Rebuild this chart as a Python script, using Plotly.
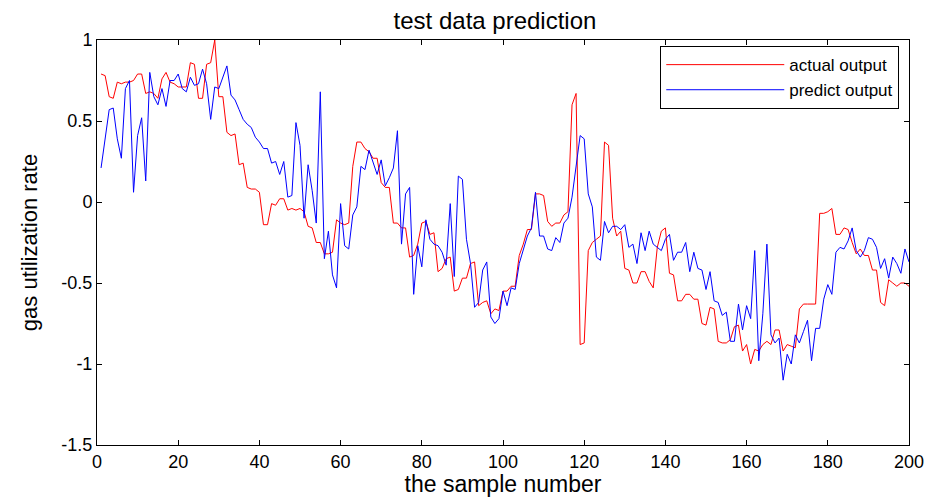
import plotly.graph_objects as go

sample = list(range(1, 201))

actual_output = [
    0.79, 0.78, 0.65, 0.64, 0.74, 0.73, 0.74, 0.74, 0.75, 0.79,
    0.79, 0.67, 0.68, 0.67, 0.64, 0.76, 0.80, 0.74, 0.73, 0.71,
    0.71, 0.71, 0.86, 0.85, 0.64, 0.64, 0.85, 0.86, 1.00, 0.65,
    0.65, 0.43, 0.41, 0.42, 0.23, 0.24, 0.09, 0.08, 0.08, 0.06,
    -0.14, -0.14, -0.01, -0.02, 0.02, 0.02, -0.05, -0.04, -0.05, -0.04,
    -0.06, -0.15, -0.16, -0.25, -0.25, -0.32, -0.32, -0.31, -0.11, -0.13,
    -0.14, -0.13, 0.22, 0.37, 0.37, 0.33, 0.31, 0.27, 0.27, 0.12,
    0.09, 0.09, -0.13, -0.13, -0.16, -0.16, -0.34, -0.33, -0.26, -0.13,
    -0.12, -0.20, -0.19, -0.43, -0.41, -0.35, -0.34, -0.55, -0.54, -0.47,
    -0.47, -0.38, -0.37, -0.64, -0.62, -0.61, -0.69, -0.66, -0.67, -0.55,
    -0.55, -0.52, -0.52, -0.33, -0.26, -0.17, -0.17, 0.05, 0.05, 0.04,
    -0.12, -0.15, -0.13, -0.13, -0.08, -0.06, 0.60, 0.67, -0.88, -0.87,
    -0.30, -0.25, -0.23, -0.21, 0.37, 0.35, -0.10, -0.21, -0.18, -0.41,
    -0.42, -0.50, -0.50, -0.43, -0.43, -0.49, -0.53, -0.28, -0.18, -0.16,
    -0.44, -0.45, -0.61, -0.61, -0.57, -0.57, -0.60, -0.60, -0.75, -0.76,
    -0.65, -0.66, -0.86, -0.87, -0.87, -0.85, -0.77, -0.76, -0.92, -0.88,
    -1.00, -0.91, -0.92, -0.88, -0.86, -0.88, -0.79, -0.79, -0.92, -0.88,
    -0.89, -0.90, -0.66, -0.63, -0.63, -0.63, -0.63, -0.07, -0.07, -0.06,
    -0.04, -0.20, -0.20, -0.16, -0.17, -0.25, -0.32, -0.29, -0.33, -0.33,
    -0.42, -0.42, -0.62, -0.64, -0.48, -0.50, -0.52, -0.50, -0.50, -0.52,
]

predict_output = [
    0.21, 0.40, 0.57, 0.58, 0.39, 0.27, 0.70, 0.75, 0.06, 0.41,
    0.52, 0.13, 0.80, 0.65, 0.60, 0.70, 0.59, 0.75, 0.75, 0.79,
    0.70, 0.68, 0.77, 0.72, 0.73, 0.82, 0.73, 0.51, 0.71, 0.70,
    0.77, 0.84, 0.66, 0.63, 0.57, 0.51, 0.48, 0.46, 0.40, 0.37,
    0.33, 0.33, 0.24, 0.25, 0.17, 0.25, 0.03, 0.04, 0.49, 0.35,
    -0.10, 0.23, 0.07, -0.13, 0.68, -0.35, -0.18, -0.45, -0.53, -0.01,
    -0.27, -0.29, -0.08, -0.03, 0.22, 0.20, 0.32, 0.24, 0.17, 0.26,
    0.10, 0.15, 0.21, 0.44, -0.26, 0.05, 0.09, -0.57, -0.27, -0.40,
    -0.11, -0.23, -0.26, -0.27, -0.31, -0.39, -0.01, -0.46, 0.16, 0.14,
    -0.23, -0.38, -0.65, -0.62, -0.42, -0.37, -0.71, -0.75, -0.72, -0.55,
    -0.64, -0.53, -0.54, -0.38, -0.30, -0.21, -0.16, 0.06, -0.21, -0.21,
    -0.29, -0.30, -0.22, -0.25, -0.13, -0.10, 0.03, 0.23, 0.41, 0.39,
    0.05, -0.03, -0.34, -0.36, -0.12, -0.19, -0.15, -0.15, -0.17, -0.14,
    -0.28, -0.26, -0.38, -0.19, -0.30, -0.18, -0.26, -0.28, -0.30, -0.23,
    -0.20, -0.36, -0.31, -0.31, -0.25, -0.43, -0.31, -0.41, -0.42, -0.54,
    -0.43, -0.61, -0.62, -0.70, -0.68, -0.86, -0.86, -0.63, -0.79, -0.64,
    -0.72, -0.30, -0.98, -0.69, -0.26, -0.82, -0.87, -0.84, -1.10, -0.94,
    -1.00, -0.82, -0.87, -0.80, -0.73, -0.98, -0.78, -0.78, -0.60, -0.51,
    -0.57, -0.31, -0.28, -0.29, -0.24, -0.16, -0.30, -0.34, -0.30, -0.22,
    -0.23, -0.28, -0.41, -0.35, -0.47, -0.34, -0.38, -0.44, -0.29, -0.37,
]

x_ticks = [0, 20, 40, 60, 80, 100, 120, 140, 160, 180, 200]
y_ticks = [-1.5, -1, -0.5, 0, 0.5, 1]
y_tick_labels = ["-1.5", "-1", "-0.5", "0", "0.5", "1"]

FONT = "Liberation Sans, Arial, sans-serif"

fig = go.Figure()
fig.add_trace(go.Scatter(x=sample, y=actual_output, mode="lines", name="actual output",
                         line=dict(color="#ff0000", width=1)))
fig.add_trace(go.Scatter(x=sample, y=predict_output, mode="lines", name="predict output",
                         line=dict(color="#0000ff", width=1)))

axis_common = dict(showgrid=False, zeroline=False, showline=True, linecolor="black",
                   linewidth=1, mirror="allticks", ticks="inside", ticklen=5,
                   tickcolor="black", automargin=False,
                   tickfont=dict(family=FONT, size=18, color="black"))

fig.update_layout(
    width=932, height=497,
    margin=dict(l=97, r=23, t=40, b=52),
    paper_bgcolor="white", plot_bgcolor="white",
    title=dict(text="test data prediction", x=495 / 932, xanchor="center",
               y=1 - 21 / 497, yanchor="middle", automargin=False,
               font=dict(family=FONT, size=24, color="black")),
    xaxis=dict(range=[0, 200], tickvals=x_ticks, ticktext=[str(v) for v in x_ticks],
               title=dict(text="the sample number", standoff=2,
                          font=dict(family=FONT, size=23, color="black")),
               **axis_common),
    yaxis=dict(range=[-1.5, 1], tickvals=y_ticks, ticktext=y_tick_labels,
               title=dict(text="gas utilization rate", standoff=17,
                          font=dict(family=FONT, size=22, color="black")),
               **axis_common),
    legend=dict(x=0.988, y=0.985, xanchor="right", yanchor="top",
                bordercolor="black", borderwidth=1, bgcolor="white",
                font=dict(family=FONT, size=17, color="black"),
                itemwidth=118, tracegroupgap=0),
    showlegend=True,
)

fig.write_html("out.html")
